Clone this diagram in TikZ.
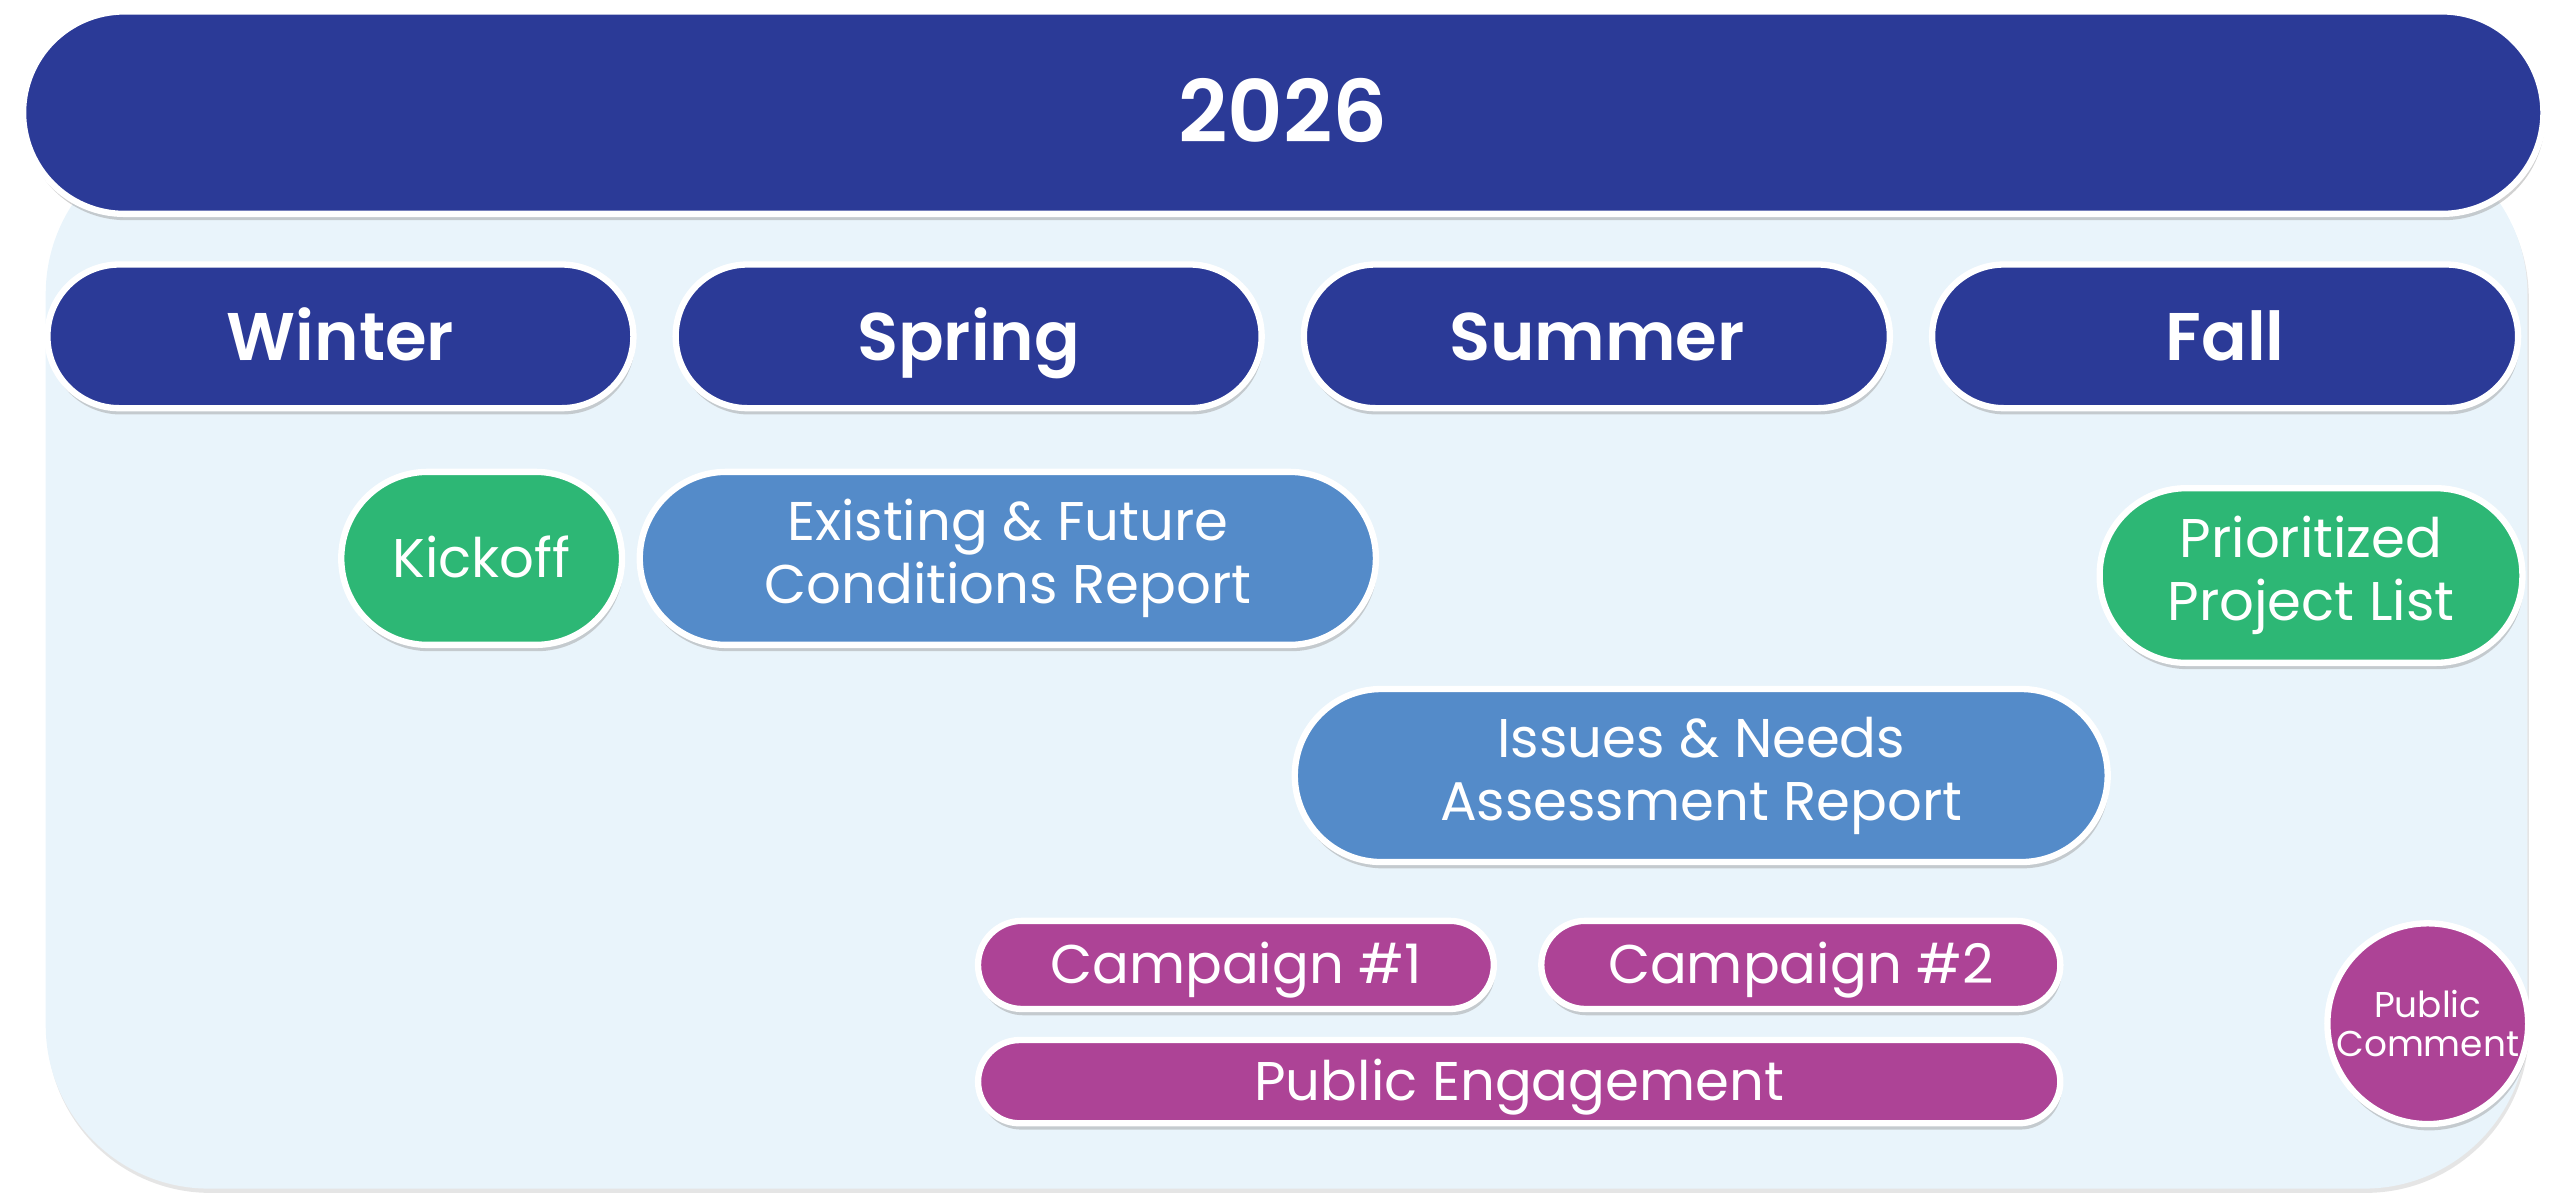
\documentclass[tikz,border=0pt]{standalone}
\usepackage{fontspec}
\setmainfont{Poppins}[BoldFont={Poppins SemiBold}]
\usepackage{tikz}
\usetikzlibrary{positioning}
\usetikzlibrary{shadows}
\definecolor{navy}{HTML}{2B3A97}
\definecolor{sky}{HTML}{E9F4FB}
\definecolor{steel}{HTML}{548BC9}
\definecolor{leaf}{HTML}{2DB775}
\definecolor{plum}{HTML}{AD4396}

\begin{document}
\begin{tikzpicture}[
            x = 0.02cm, y = -0.02cm, % pixel grid, y down
            node distance = 0.44cm, % gap between season pills
            inner sep = 0pt
        ]

        \tikzstyle{pill}=[
            draw = white,
            line width = 2.2pt,
            text = white,
            align = center,
            drop shadow = {shadow xshift=0.5pt, shadow yshift=-2.2pt, fill=black!40, opacity=.45}
        ]
        \tikzstyle{season}=[pill, text height=16.5pt, text depth=0pt, fill=navy, rounded corners=0.88cm, minimum width=7.18cm, minimum height=1.76cm, font=\fontsize{23.5}{27}\selectfont\bfseries]
        \tikzstyle{task}=[pill, rounded corners=1.06cm, minimum height=2.12cm, font=\fontsize{19}{22}\selectfont]
        \tikzstyle{outreach}=[pill, text height=13.3pt, text depth=0pt, fill=plum, rounded corners=0.54cm, minimum height=1.08cm, font=\fontsize{19}{22}\selectfont]

        \useasboundingbox (0,0) rectangle (1568,735);

	% panel
        \fill[sky, rounded corners=2cm, drop shadow={shadow xshift=0.5pt, shadow yshift=-1.5pt, fill=black!25, opacity=.4}] (28,80) rectangle (1548,728);

        % year and seasons
        \node[pill, text height=21pt, text depth=0pt, fill=navy, rounded corners=1.24cm, minimum width=30.88cm, minimum height=2.48cm, font=\fontsize{30}{34}\selectfont\bfseries] (Year) at (786,69) {2026};

        \node[season] (Winter) at (208.5,206) {Winter};
        \node[season] (Spring) [right=of Winter] {Spring};
        \node[season] (Summer) [right=of Spring] {Summer};
        \node[season] (Fall) [right=of Summer] {Fall};

        % tasks
        \node[task, text height=13.3pt, text depth=0pt, fill=leaf, minimum width=3.44cm] (Kickoff) at (295,342) {Kickoff};
        \node[task, fill=steel, minimum width=9.02cm] (Existing) [right=0.14cm of Kickoff] {Existing \& Future\\Conditions Report};
        \node[task, fill=steel, minimum width=9.96cm] (Issues) at (1042,475) {Issues \& Needs\\Assessment Report};
        \node[task, fill=leaf, minimum width=5.18cm, minimum height=2.14cm] (Projects) at (1415.5,352.5) {Prioritized\\Project List};

        % engagement
        \node[outreach, minimum width=6.32cm] (Camp1) at (757,591) {Campaign \#1};
        \node[outreach, minimum width=6.36cm] (Camp2) at (1103,591) {Campaign \#2};
        \node[outreach, minimum width=13.26cm, minimum height=1.02cm, rounded corners=0.51cm] (Engage) at (930.5,662.5) {Public Engagement};
        \node[pill, fill=plum, circle, minimum size=2.46cm, font=\fontsize{12.5}{13.5}\selectfont] (Comment) at (1487,627) {Public\\Comment};

  \end{tikzpicture}
\end{document}
